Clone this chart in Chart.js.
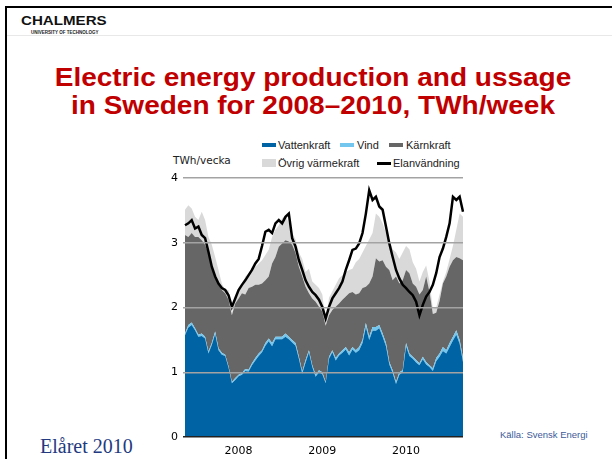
<!DOCTYPE html>
<html>
<head>
<meta charset="utf-8">
<script src="https://cdn.jsdelivr.net/npm/chart.js@4.4.1/dist/chart.umd.min.js"></script>
<style>
  html, body { margin: 0; padding: 0; background: #fff; }
  body { width: 612px; height: 459px; position: relative; overflow: hidden;
         font-family: "Liberation Sans", Arial, sans-serif; }
  .frame { position: absolute; left: 5px; top: 6px; width: 640px; height: 480px;
           border-top: 2px solid #000; border-left: 2px solid #000; }
  .rule { position: absolute; left: 7px; top: 35px; width: 605px; height: 1px; background: #e8e8e8; }
  .logo { position: absolute; left: 21px; top: 15px; font-size: 12px; line-height: 12px;
          font-weight: bold; color: #111; transform: scaleX(1.26); transform-origin: 0 0; }
  .logo-sub { position: absolute; left: 31px; top: 30px; font-size: 4.5px; line-height: 5px;
              font-weight: bold; color: #222; white-space: nowrap; }
  .title { position: absolute; left: 0; width: 626px; text-align: center; font-size: 25px;
           line-height: 25px; font-weight: bold; color: #c00000; white-space: nowrap;
           transform: scaleX(1.12); transform-origin: 50% 0; }
  .chart { position: absolute; left: 150px; top: 170px; }
  .lg { position: absolute; font-size: 11px; line-height: 12px; color: #222; white-space: nowrap; }
  .sw { position: absolute; width: 14px; }
  .unit { position: absolute; left: 173px; top: 154px; font-family: "DejaVu Sans", sans-serif;
          font-size: 10.5px; line-height: 12px; color: #222; }
  .year { position: absolute; left: 40px; top: 436px; font-family: "Liberation Serif", "Times New Roman", serif;
          font-size: 20px; line-height: 20px; color: #233a80; }
  .source { position: absolute; left: 500px; top: 429px; font-size: 9.5px; line-height: 11px; color: #3d5a99; }
</style>
</head>
<body>
<div class="frame"></div>
<div class="rule"></div>
<div class="logo">CHALMERS</div>
<div class="logo-sub">UNIVERSITY OF TECHNOLOGY</div>
<div class="title" style="top:64.5px">Electric energy production and ussage</div>
<div class="title" style="top:93px">in Sweden for 2008–2010, TWh/week</div>

<div class="sw" style="left:262px;top:143px;height:4px;background:#0063a3"></div>
<div class="lg" style="left:278px;top:139px">Vattenkraft</div>
<div class="sw" style="left:340px;top:143px;height:4px;background:#73c7ef"></div>
<div class="lg" style="left:357px;top:139px">Vind</div>
<div class="sw" style="left:389px;top:143px;height:4px;background:#666666"></div>
<div class="lg" style="left:406px;top:139px">Kärnkraft</div>
<div class="sw" style="left:262px;top:159px;height:8px;background:#d9d9d9"></div>
<div class="lg" style="left:278px;top:157px">Övrig värmekraft</div>
<div class="sw" style="left:377px;top:161.5px;height:3px;background:#000"></div>
<div class="lg" style="left:393px;top:157px">Elanvändning</div>
<div class="unit">TWh/vecka</div>

<canvas class="chart" id="c" width="320" height="289"></canvas>

<div class="year">Elåret 2010</div>
<div class="source">Källa: Svensk Energi</div>

<script>
// Weekly production by source, TWh/week, sampled about every two weeks 2008-2010
const vattenkraft = [
  1.57, 1.69, 1.73, 1.65, 1.55, 1.56, 1.52, 1.29, 1.42, 1.59, 1.34, 1.27, 1.25, 1.07, 0.83,
  0.88, 0.94, 0.96, 1.02, 1.01, 1.11, 1.18, 1.25, 1.31, 1.41, 1.48, 1.40, 1.51, 1.51,
  1.51, 1.55, 1.51, 1.46, 1.41, 1.21, 0.98, 1.15, 1.31, 1.08, 0.93, 1.00, 0.97, 0.83,
  1.21, 1.31, 1.18, 1.26, 1.30, 1.35, 1.26, 1.35, 1.30, 1.34, 1.45, 1.70, 1.50, 1.64,
  1.64, 1.68, 1.55, 1.40, 1.12, 0.99, 0.82, 0.96, 1.00, 1.40, 1.25, 1.21, 1.15, 1.11,
  1.20, 1.12, 1.08, 1.02, 1.17, 1.24, 1.33, 1.29, 1.39, 1.49, 1.58, 1.44, 1.16
];
const vind = [
  0.03, 0.04, 0.04, 0.03, 0.03, 0.04, 0.03, 0.03, 0.03, 0.04, 0.03, 0.03, 0.02, 0.02, 0.02,
  0.03, 0.02, 0.03, 0.03, 0.03, 0.03, 0.04, 0.04, 0.03, 0.04, 0.04, 0.05, 0.04, 0.04,
  0.04, 0.05, 0.04, 0.04, 0.04, 0.03, 0.03, 0.04, 0.03, 0.03, 0.03, 0.03, 0.03, 0.02,
  0.03, 0.03, 0.04, 0.03, 0.04, 0.04, 0.05, 0.04, 0.04, 0.05, 0.05, 0.06, 0.05, 0.06,
  0.06, 0.05, 0.05, 0.05, 0.04, 0.04, 0.03, 0.04, 0.03, 0.05, 0.04, 0.03, 0.04, 0.03,
  0.04, 0.04, 0.03, 0.04, 0.05, 0.05, 0.06, 0.05, 0.06, 0.06, 0.07, 0.06, 0.06
];
const karnkraft = [
  1.52, 1.36, 1.38, 1.41, 1.51, 1.44, 1.42, 1.52, 1.18, 0.85, 0.98, 0.97, 0.95, 1.03, 1.03,
  1.15, 1.18, 1.23, 1.15, 1.26, 1.18, 1.13, 1.06, 1.03, 0.97, 0.96, 1.23, 1.23, 1.39,
  1.44, 1.44, 1.47, 1.47, 1.39, 1.39, 1.47, 1.13, 0.88, 1.03, 1.13, 0.98, 0.94, 0.87,
  0.64, 0.62, 0.79, 0.77, 0.78, 0.78, 0.91, 0.85, 0.86, 0.83, 0.80, 0.56, 0.82, 0.78,
  1.06, 0.98, 1.13, 1.18, 1.42, 1.39, 1.63, 1.37, 1.39, 1.13, 1.24, 1.13, 1.13, 1.06,
  1.03, 1.32, 1.13, 0.84, 0.70, 0.81, 0.98, 1.14, 1.18, 1.18, 1.13, 1.26, 1.51
];
const ovrigVarmekraft = [
  0.39, 0.49, 0.38, 0.31, 0.26, 0.44, 0.38, 0.25, 0.34, 0.30, 0.23, 0.10, 0.05, 0.15, 0.04,
  0.06, 0.16, 0.13, 0.28, 0.23, 0.26, 0.28, 0.33, 0.36, 0.39, 0.41, 0.41, 0.42, 0.33,
  0.39, 0.38, 0.28, 0.18, 0.21, 0.22, 0.27, 0.23, 0.38, 0.26, 0.26, 0.29, 0.26, 0.06,
  0.27, 0.29, 0.34, 0.39, 0.38, 0.38, 0.36, 0.36, 0.50, 0.53, 0.55, 0.63, 0.68, 0.67,
  0.69, 0.69, 0.57, 0.52, 0.47, 0.48, 0.37, 0.38, 0.43, 0.37, 0.37, 0.33, 0.28, 0.20,
  0.28, 0.17, 0.16, 0.08, 0.08, 0.10, 0.03, 0.07, 0.12, 0.22, 0.42, 0.69, 0.67
];
// Electricity use, TWh/week
const elanvandning = [
  3.27, 3.30, 3.35, 3.22, 3.25, 3.12, 3.07, 2.86, 2.63, 2.48, 2.37, 2.30, 2.27, 2.19, 2.01,
  2.14, 2.27, 2.35, 2.42, 2.50, 2.58, 2.68, 2.75, 2.95, 3.17, 3.20, 3.15, 3.30, 3.35,
  3.30, 3.40, 3.45, 3.07, 2.94, 2.73, 2.58, 2.42, 2.32, 2.24, 2.19, 2.12, 2.01, 1.83,
  2.01, 2.14, 2.22, 2.30, 2.40, 2.58, 2.73, 2.89, 2.91, 2.99, 3.15, 3.45, 3.81, 3.66,
  3.71, 3.56, 3.51, 3.25, 2.99, 2.78, 2.58, 2.45, 2.35, 2.30, 2.24, 2.19, 2.09, 1.88,
  2.04, 2.17, 2.24, 2.35, 2.53, 2.78, 2.91, 3.09, 3.30, 3.71, 3.66, 3.71, 3.48
];

const yearLabels = ['2008', '2009', '2010'];
const yearTickAt = [16, 41, 66]; // sample under each year label
const yTicks = [0, 1, 2, 3, 4];

const xLabels = vattenkraft.map((_, i) => {
  const k = yearTickAt.indexOf(i);
  return k >= 0 ? yearLabels[k] : '';
});

function area(label, data, color, fill) {
  return {
    label: label,
    data: data,
    stack: 'prod',
    backgroundColor: color,
    borderColor: color,
    borderWidth: 0,
    pointRadius: 0,
    fill: fill,
    order: 1
  };
}

const tickFont = { family: 'DejaVu Sans', size: 11 };

new Chart(document.getElementById('c'), {
  type: 'line',
  data: {
    labels: xLabels,
    datasets: [
      area('Vattenkraft', vattenkraft, '#0063a3', 'origin'),
      area('Vind', vind, '#73c7ef', '-1'),
      area('Kärnkraft', karnkraft, '#666666', '-1'),
      area('Övrig värmekraft', ovrigVarmekraft, '#d9d9d9', '-1'),
      {
        label: 'Elanvändning',
        data: elanvandning,
        stack: 'use',
        borderColor: '#000',
        borderWidth: 2.5,
        pointRadius: 0,
        fill: false,
        order: 0
      }
    ]
  },
  options: {
    responsive: false,
    animation: false,
    devicePixelRatio: 1,
    events: [],
    layout: { padding: { top: 8, right: 7, left: 0, bottom: 0 } },
    elements: { line: { tension: 0 } },
    plugins: { legend: { display: false }, tooltip: { enabled: false } },
    scales: {
      x: {
        grid: { display: false, drawTicks: false },
        border: { display: false },
        ticks: { autoSkip: false, maxRotation: 0, padding: 8, color: '#000', font: tickFont },
        afterFit: s => { s.height = 22; s.paddingLeft = 0; s.paddingRight = 0; }
      },
      y: {
        stacked: true,
        min: 0,
        max: 4,
        afterBuildTicks: s => { s.ticks = yTicks.map(v => ({ value: v })); },
        grid: {
          z: 1,
          color: ctx => (ctx.tick && ctx.tick.value === 0) ? '#222' : '#a3a3a3',
          lineWidth: 1.5,
          tickLength: 2
        },
        border: { display: false },
        ticks: { padding: 5, color: '#000', font: tickFont },
        afterFit: s => { s.width = 35; s.paddingTop = 0; s.paddingBottom = 0; }
      }
    }
  }
});
</script>
</body>
</html>
